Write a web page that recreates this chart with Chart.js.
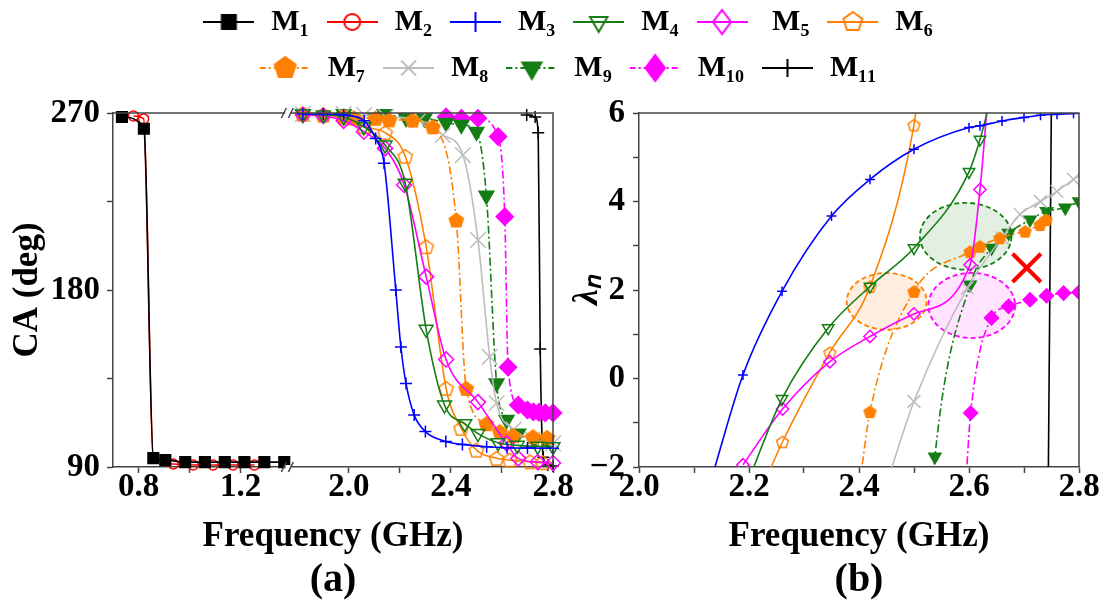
<!DOCTYPE html>
<html><head><meta charset="utf-8">
<script src="https://cdn.jsdelivr.net/npm/chart.js@4.4.1/dist/chart.umd.min.js"></script>
<style>
html,body{margin:0;padding:0;background:#fff;overflow:hidden;width:1105px;height:601px;position:relative}
canvas{position:absolute}
#lg{left:0;top:-9px}
#ca{left:0;top:0}
#cb{left:560px;top:0}
</style></head><body>
<canvas id="lg" width="1105" height="250"></canvas>
<canvas id="ca" width="600" height="601"></canvas>
<canvas id="cb" width="545" height="601"></canvas>
<script>
// ---------------- data ----------------
const seriesNames = ['M₁','M₂','M₃','M₄',' M₅','M₆','M₇','M₈','M₉','M₁₀','M₁₁'];

// panel (a): [frequency GHz, contact angle deg]
const caM1 = [[0.735,268],[0.821,262],[0.858,94.5],[0.905,93.5],[0.983,92.5],[1.06,92.5],[1.138,92.5],[1.215,92.5],[1.293,92.5],[1.371,92.5]];
const caM2 = [[0.78,268.5],[0.82,267],[0.858,94.5],[0.936,91.5],[1.014,91],[1.092,91],[1.17,91],[1.254,91]];
const caM3 = [[1.82,269.5],[1.90,269.5],[1.98,269],[2.06,266],[2.105,257],[2.138,244.5],[2.184,180],[2.204,151],[2.224,132.5],[2.256,116.5],[2.30,108],[2.38,103],[2.445,101.5],[2.54,100.3],[2.62,99.8],[2.70,99.6],[2.80,99.5]];
const caM4 = [[1.82,269.5],[1.90,269],[1.98,268],[2.059,263],[2.142,253.7],[2.221,234.3],[2.303,160],[2.375,121.5],[2.454,112],[2.506,107],[2.585,102.3],[2.66,101],[2.74,100.5],[2.80,100.3]];
const caM5 = [[1.82,269],[1.90,268.5],[1.98,266],[2.059,260.5],[2.142,252],[2.217,233.4],[2.303,186.8],[2.381,144.7],[2.506,123],[2.618,102],[2.664,94.4],[2.74,92.5],[2.80,92]];
const caM6 = [[1.82,269.5],[1.90,269],[1.98,267.5],[2.059,263],[2.142,260],[2.221,248],[2.303,202],[2.381,130],[2.44,109.7],[2.50,98.6],[2.579,94.4],[2.631,93.5],[2.71,92.7],[2.76,92.2]];
const caM7 = [[1.82,269.5],[1.90,269],[1.98,268.5],[2.02,267.5],[2.105,267.3],[2.158,266.5],[2.25,266.4],[2.329,263],[2.421,215.6],[2.46,130],[2.539,112],[2.592,108],[2.643,106],[2.722,105.4],[2.777,105]];
const caM8 = [[1.82,269.5],[1.98,269.5],[2.06,269],[2.145,268],[2.276,266.4],[2.368,258.8],[2.447,248.6],[2.506,205.4],[2.552,146],[2.579,122.4],[2.645,109],[2.72,104],[2.80,102]];
const caM9 = [[1.82,269.5],[1.98,269.5],[2.14,269.5],[2.224,267.5],[2.296,267.3],[2.381,265],[2.441,264],[2.50,260.5],[2.539,228],[2.579,132.6],[2.618,114],[2.664,107],[2.73,103.7],[2.776,103.5]];
const caM10 = [[2.381,268],[2.441,267.3],[2.506,267.3],[2.585,258],[2.611,217.3],[2.624,140.7],[2.664,121.5],[2.70,119],[2.723,118],[2.745,117.8],[2.77,117.5],[2.80,117.5]];
const caM11 = [[2.697,269],[2.73,268],[2.742,260],[2.75,150],[2.762,95],[2.78,91],[2.80,90.5]];

// panel (b): [frequency GHz, lambda_n]
const lamM3 = [[2.131,-2.3],[2.189,0.08],[2.26,1.97],[2.35,3.67],[2.42,4.5],[2.50,5.18],[2.60,5.67],[2.62,5.71],[2.66,5.82],[2.70,5.9],[2.73,5.95],[2.76,5.97],[2.79,5.99]];
const lamM4 = [[2.199,-2.3],[2.26,-0.46],[2.344,1.14],[2.42,2.08],[2.50,2.95],[2.60,4.67],[2.62,5.4],[2.639,6.3]];
const lamM5 = [[2.189,-1.95],[2.261,-0.69],[2.347,0.38],[2.42,0.95],[2.50,1.46],[2.602,2.57],[2.62,4.27],[2.634,6.3]];
const lamM6 = [[2.230,-2.3],[2.261,-1.43],[2.347,0.59],[2.42,2.08],[2.50,5.73],[2.506,6.3]];
const lamM7 = [[2.402,-2.3],[2.42,-0.75],[2.50,1.97],[2.602,2.87],[2.62,2.99],[2.656,3.18],[2.702,3.33],[2.729,3.48],[2.74,3.59]];
const lamM8 = [[2.452,-2.3],[2.50,-0.52],[2.597,2.05],[2.66,3.18],[2.693,3.71],[2.73,4.0],[2.76,4.23],[2.79,4.5],[2.83,4.8]];
const lamM9 = [[2.535,-2.3],[2.538,-1.77],[2.602,2.12],[2.641,2.95],[2.672,3.29],[2.711,3.59],[2.741,3.78],[2.775,3.86],[2.80,4.0]];
const lamM10 = [[2.5945,-2.3],[2.603,-0.78],[2.641,1.37],[2.672,1.63],[2.711,1.78],[2.741,1.87],[2.772,1.93],[2.80,1.95]];
const lamM11 = [[2.744,-2.5],[2.750,6.5]];
const crossMark = [[2.705,2.5]];
const zoneCenters = [[2.4504,1.743],[2.605,1.65],[2.594,3.215]];
const zoneRadii = [[0.0727,0.641],[0.0788,0.736],[0.0833,0.755]];

// ticks
const caXTicks = [0.8,1.0,1.2,2.0,2.2,2.4,2.6,2.8];
const caXLabels = ['0.8','','1.2','2.0','','2.4','','2.8'];
const caYTicks = [90,135,180,225,270];
const caYLabels = ['90','','180','','270'];
const lamXTicks = [2.0,2.1,2.2,2.3,2.4,2.5,2.6,2.7,2.8];
const lamXLabels = ['2.0','','2.2','','2.4','','2.6','','2.8'];
const lamYTicks = [-2,-1,0,1,2,3,4,5,6];
const lamYLabels = ['\u22122','','0','','2','','4','','6'];

// broken axis of panel (a)
const GAP = 0.376;
const BREAK_F = 1.387;
function toAxisA(f){ return f > 1.5 ? f - GAP : f; }

// ---------------- styles ----------------
const FONT = "'Liberation Serif','Times New Roman',serif";
const ORANGE = '#FF8000', GREEN = '#147D14', MAG = '#FF00FF';
const styles = [
  {color:'#000000', marker:'square', fill:true},
  {color:'#FF0000', marker:'circle', fill:false},
  {color:'#0000FF', marker:'plus'},
  {color:GREEN, marker:'triDown', fill:false},
  {color:MAG, marker:'diamond', fill:false},
  {color:ORANGE, marker:'pentagon', fill:false},
  {color:ORANGE, marker:'pentagon', fill:true, dash:true},
  {color:'#BDBDBD', marker:'x'},
  {color:GREEN, marker:'triDown', fill:true, dash:true},
  {color:MAG, marker:'diamond', fill:true, dash:true},
  {color:'#000000', marker:'plus'}
];
const DASH = [8,3,2,3];

function drawMarker(g, kind, x, y, r, color, fill, lw){
  g.save(); g.strokeStyle=color; g.fillStyle=color; g.lineWidth=lw||2; g.setLineDash([]);
  g.beginPath();
  if(kind==='square'){ g.rect(x-r,y-r,2*r,2*r); }
  else if(kind==='circle'){ g.arc(x,y,r,0,2*Math.PI); }
  else if(kind==='plus'){ g.moveTo(x-r,y); g.lineTo(x+r,y); g.moveTo(x,y-r); g.lineTo(x,y+r); }
  else if(kind==='x'){ const d=r*0.75; g.moveTo(x-d,y-d); g.lineTo(x+d,y+d); g.moveTo(x+d,y-d); g.lineTo(x-d,y+d); }
  else if(kind==='triDown'){ g.moveTo(x,y+r); g.lineTo(x-r*0.87,y-r*0.5); g.lineTo(x+r*0.87,y-r*0.5); g.closePath(); }
  else if(kind==='diamond'){ g.moveTo(x,y-r); g.lineTo(x+r*0.75,y); g.lineTo(x,y+r); g.lineTo(x-r*0.75,y); g.closePath(); }
  else if(kind==='pentagon'){ for(let k=0;k<5;k++){ const a=-Math.PI/2+k*2*Math.PI/5; const px=x+r*Math.cos(a), py=y+r*Math.sin(a); if(k===0) g.moveTo(px,py); else g.lineTo(px,py);} g.closePath(); }
  if(fill && kind!=='plus' && kind!=='x') g.fill();
  g.stroke(); g.restore();
}
const legendSizes = [7,8,10,10,12,10,11,10,11,13,9];
function legendIcon(i){
  const s=styles[i], w=51, h=30;
  const c=document.createElement('canvas'); c.width=w; c.height=h;
  const g=c.getContext('2d');
  g.strokeStyle=s.color; g.lineWidth=2; g.setLineDash(s.dash?[6,3,2,3]:[]);
  g.beginPath(); g.moveTo(0,h/2); g.lineTo(w,h/2); g.stroke();
  drawMarker(g, s.marker, w/2, h/2, legendSizes[i], s.color, s.fill, 2);
  return c;
}
function pentagonImage(s, r){
  const c=document.createElement('canvas'); const n=Math.ceil(2*r+4); c.width=n; c.height=n;
  drawMarker(c.getContext('2d'),'pentagon',n/2,n/2+0.8,r,s.color,s.fill,1.5);
  return c;
}
function pointOpts(s, k){
  switch(s.marker){
    case 'square': return {pointStyle:'rect', pointRadius:7.5*k};
    case 'circle': return {pointStyle:'circle', pointRadius:5*k};
    case 'plus': return {pointStyle:'cross', pointRadius:6*k};
    case 'triDown': return {pointStyle:'triangle', pointRotation:180, pointRadius:(s.fill?8.5:8)*k};
    case 'diamond': return {pointStyle:'rectRot', pointRadius:(s.fill?8.5:7.5)*k};
    case 'pentagon': return {pointStyle:pentagonImage(s,7.5*k), pointRadius:7.5*k};
    case 'x': return {pointStyle:'crossRot', pointRadius:11*k};
  }
}
function makeDataset(i, pts, mapX, k, clip){
  const s=styles[i];
  const d = {
    label: seriesNames[i].trim(),
    data: pts.map(p=>({x:mapX(p[0]), y:p[1]})),
    showLine:true, borderColor:s.color, backgroundColor:s.color, borderWidth:1.6,
    borderDash: s.dash?DASH:[], cubicInterpolationMode:'monotone',
    pointBackgroundColor: s.fill ? s.color : 'rgba(0,0,0,0)', pointBorderColor:s.color, pointBorderWidth:1.5
  };
  if(clip!==undefined) d.clip=clip;
  return Object.assign(d, pointOpts(s,k));
}

Chart.defaults.font.family = FONT;
Chart.defaults.color = '#000';

function axisCommon(ticksArr, labelsArr, pad, extra){
  return Object.assign({
    type:'linear',
    afterBuildTicks: a => { a.ticks = ticksArr.map(v=>({value:v})); },
    ticks:{callback:(v,i)=>labelsArr[i], autoSkip:false, maxRotation:0, padding:pad, color:'#000', font:{family:FONT,size:33,weight:'bold',lineHeight:1}},
    grid:{drawOnChartArea:false, tickLength:6, tickColor:'#444', tickWidth:1.5, color:'#444'},
    border:{display:true, color:'#444', width:1.5}
  }, extra);
}

// ---------------- legend ----------------
const legendIcons = seriesNames.map((n,i)=>legendIcon(i));
new Chart(document.getElementById('lg'), {
  type:'scatter',
  data:{datasets: seriesNames.map(n=>({label:n, data:[]}))},
  options:{
    responsive:false, animation:false, devicePixelRatio:1,
    layout:{padding:{left:152,right:123,top:0,bottom:0}},
    scales:{x:{display:false}, y:{display:false}},
    plugins:{
      tooltip:{enabled:false},
      legend:{display:true, position:'top', align:'center',
        labels:{usePointStyle:true, pointStyleWidth:55, padding:16, color:'#000',
          font:{family:FONT,size:30,weight:'bold'},
          generateLabels: () => seriesNames.map((n,i)=>({text:n, pointStyle:legendIcons[i], fillStyle:'rgba(0,0,0,0)', strokeStyle:'rgba(0,0,0,0)', lineWidth:0, hidden:false, datasetIndex:i, fontColor:'#000'}))
        }}
    }
  }
});

// ---------------- panel (a) ----------------
const caSeries = [caM1,caM2,caM3,caM4,caM5,caM6,caM7,caM8,caM9,caM10,caM11];
const frameA = {id:'frameA', afterDraw(chart){
  const {ctx, chartArea:{left,right,top,bottom}} = chart;
  const bx = chart.scales.x.getPixelForValue(toAxisA(BREAK_F));
  ctx.save(); ctx.strokeStyle='#444'; ctx.lineWidth=1.5;
  ctx.beginPath(); ctx.moveTo(left,top); ctx.lineTo(right,top); ctx.lineTo(right,bottom); ctx.stroke();
  [top,bottom].forEach(yy=>{
    ctx.fillStyle='#fff'; ctx.fillRect(bx-3,yy-2,5,4);
    ctx.beginPath(); ctx.moveTo(bx-7,yy+5); ctx.lineTo(bx-2,yy-5); ctx.moveTo(bx,yy+5); ctx.lineTo(bx+5,yy-5); ctx.stroke();
  });
  ctx.restore();
}};
new Chart(document.getElementById('ca'), {
  type:'scatter',
  data:{datasets: caSeries.map((pts,i)=>makeDataset(i, pts, toAxisA, 1, 10))},
  options:{
    responsive:false, animation:false, devicePixelRatio:1,
    layout:{padding:{left:0,right:47,top:113,bottom:0}},
    plugins:{legend:{display:false}, tooltip:{enabled:false},
      subtitle:{display:true, position:'bottom', fullSize:false, text:'(a)', color:'#000', font:{family:FONT,size:40,weight:'bold',lineHeight:1}, padding:0}},
    scales:{
      x: axisCommon(caXTicks.map(toAxisA), caXLabels, -2, {min:0.70, max:2.8-GAP,
          afterFit: a => { a.height = 94; },
          title:{display:true, text:'Frequency (GHz)', color:'#000', font:{family:FONT,size:35,weight:'bold',lineHeight:1.2}, padding:{top:0,bottom:3}}}),
      y: axisCommon(caYTicks, caYLabels, 7, {min:90, max:270,
          afterFit: a => { a.width = 113; },
          title:{display:true, text:'CA (deg)', color:'#000', font:{family:FONT,size:35,weight:'bold',lineHeight:1.2}, padding:{top:7,bottom:0}}})
    }
  },
  plugins:[frameA]
});

// ---------------- panel (b) ----------------
const lamSeries = [[2,lamM3],[3,lamM4],[4,lamM5],[5,lamM6],[6,lamM7],[7,lamM8],[8,lamM9],[9,lamM10],[10,lamM11]];
const zoneFill = ['rgba(255,150,60,0.16)','rgba(255,0,255,0.11)','rgba(20,125,20,0.12)'];
const zoneStroke = [ORANGE, MAG, GREEN];
const zonesB = {id:'zonesB', beforeDatasetsDraw(chart){
  const {ctx, scales:{x,y}} = chart;
  zoneCenters.forEach((c,i)=>{
    const cx=x.getPixelForValue(c[0]), cy=y.getPixelForValue(c[1]);
    const rx=Math.abs(x.getPixelForValue(c[0]+zoneRadii[i][0])-cx);
    const ry=Math.abs(y.getPixelForValue(c[1]+zoneRadii[i][1])-cy);
    ctx.save(); ctx.beginPath(); ctx.ellipse(cx,cy,rx,ry,0,0,2*Math.PI);
    ctx.fillStyle=zoneFill[i]; ctx.fill();
    ctx.setLineDash([5,3]); ctx.lineWidth=1.8; ctx.strokeStyle=zoneStroke[i]; ctx.stroke(); ctx.restore();
  });
}, afterDraw(chart){
  const {ctx, chartArea:{left,right,top,bottom}} = chart;
  ctx.save(); ctx.strokeStyle='#444'; ctx.lineWidth=1.5;
  ctx.beginPath(); ctx.moveTo(left,top); ctx.lineTo(right,top); ctx.lineTo(right,bottom); ctx.stroke(); ctx.restore();
}};
const dsB = lamSeries.map(([i,pts])=>makeDataset(i, pts, f=>f, 0.82));
dsB.unshift({label:'×', data: crossMark.map(p=>({x:p[0],y:p[1]})), showLine:false, pointStyle:'crossRot', pointRadius:20, pointBorderWidth:4, pointBorderColor:'#FF0000', borderColor:'#FF0000'});
new Chart(document.getElementById('cb'), {
  type:'scatter',
  data:{datasets: dsB},
  options:{
    responsive:false, animation:false, devicePixelRatio:1,
    layout:{padding:{left:0,right:26,top:113,bottom:0}},
    plugins:{legend:{display:false}, tooltip:{enabled:false},
      subtitle:{display:true, position:'bottom', fullSize:false, text:'(b)', color:'#000', font:{family:FONT,size:40,weight:'bold',lineHeight:1}, padding:0}},
    scales:{
      x: axisCommon(lamXTicks, lamXLabels, -2, {min:2.0, max:2.8,
          afterFit: a => { a.height = 94; },
          title:{display:true, text:'Frequency (GHz)', color:'#000', font:{family:FONT,size:35,weight:'bold',lineHeight:1.2}, padding:{top:0,bottom:3}}}),
      y: axisCommon(lamYTicks, lamYLabels, 8, {min:-2, max:6,
          afterFit: a => { a.width = 79; },
          title:{display:true, text:'λₙ', color:'#000', font:{family:FONT,size:36,style:'italic',weight:'bold',lineHeight:1.2}, padding:{top:6,bottom:0}}})
    }
  },
  plugins:[zonesB]
});
</script>
</body></html>
